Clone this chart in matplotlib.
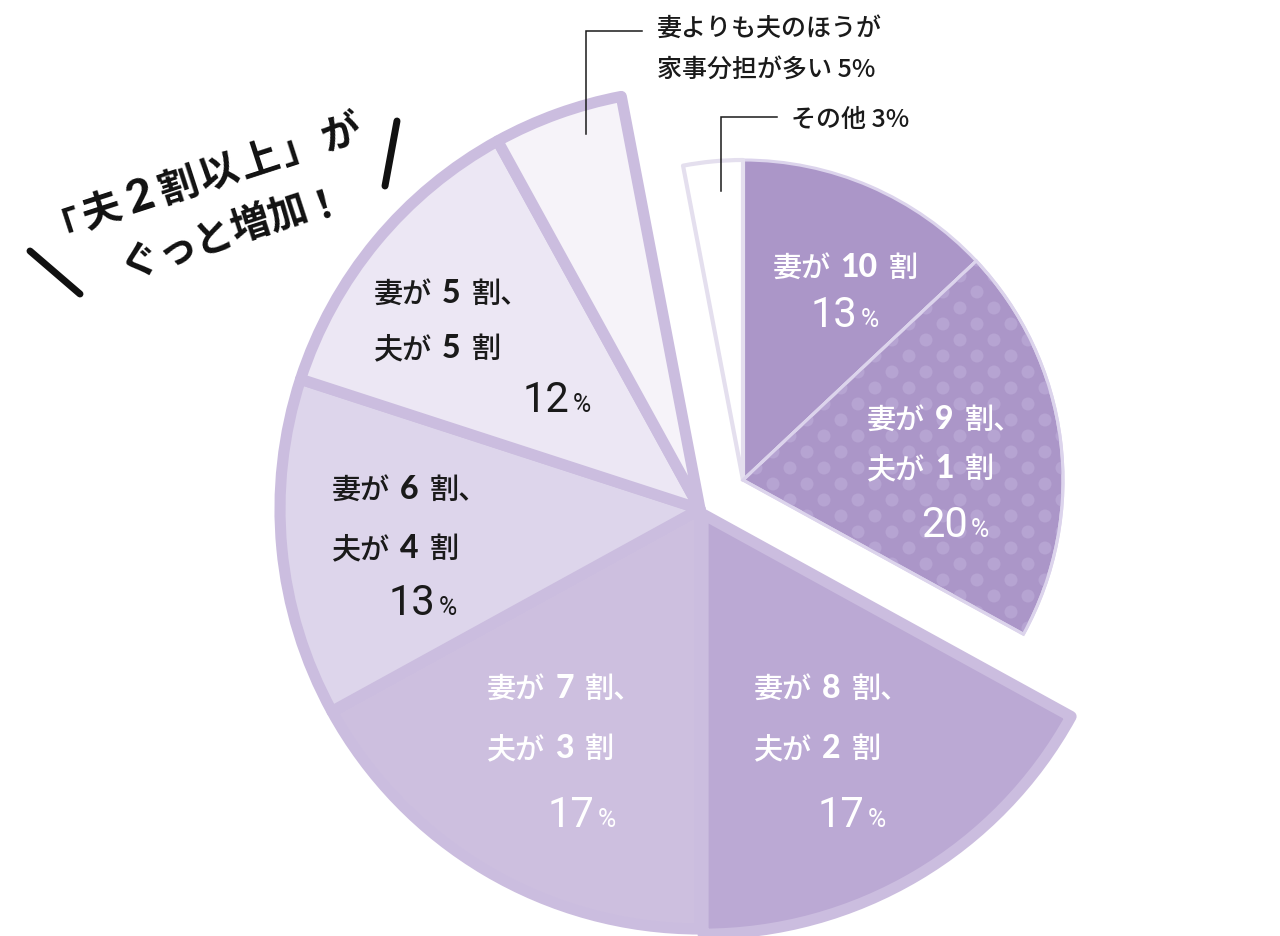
import numpy as np
import matplotlib
matplotlib.use('Agg')
import matplotlib.pyplot as plt
from matplotlib.patches import Wedge, Circle
from matplotlib.collections import PatchCollection

# ---------------- data ----------------
categories = ['妻が10割', '妻が9割、夫が1割', '妻が8割、夫が2割', '妻が7割、夫が3割',
              '妻が6割、夫が4割', '妻が5割、夫が5割',
              '妻よりも夫のほうが家事分担が多い', 'その他']
values = [13, 20, 17, 17, 13, 12, 5, 3]
wife_share = ['10', '9', '8', '7', '6', '5']
husband_share = [None, '1', '2', '3', '4', '5']
pct_labels = ['13', '20', '17', '17', '13', '12']
outside_label_1 = ['妻よりも夫のほうが', '家事分担が多い 5%']
outside_label_2 = 'その他 3%'
title_line1 = ['「', '夫', '2', '割', '以', '上', '」', 'が']
title_line2 = ['ぐ', 'っ', 'と', '増', '加', '！']

# ---------------- style ----------------
W, H = 1280, 937
fill_colors = ['#ab96c8', '#ab96c8', '#bba9d4', '#cdbfdf', '#ddd5eb',
               '#ece7f4', '#f6f3f9', '#ffffff']
border = '#cbbddf'
dot_color = '#b6a4d2'
txt_colors = ['white', 'white', 'white', 'white', '#1a1a1a', '#1a1a1a']

fig = plt.figure(figsize=(W / 100, H / 100), dpi=100)
ax = fig.add_axes([0, 0, 1, 1])

# main (large) pie
main_center = (700, H - 510)
explode_main = [0, 0, 6, 0, 0, 0, 0, 0]
w_main, _ = ax.pie(values, colors=fill_colors, startangle=90, counterclock=False,
                   radius=420, center=main_center, explode=explode_main,
                   wedgeprops=dict(edgecolor=border, linewidth=8, joinstyle='round'))
for i in (0, 1, 7):
    w_main[i].set_visible(False)

# exploded (small) pie
small_center = (743, H - 481)
w_small, _ = ax.pie(values, colors=fill_colors, startangle=90, counterclock=False,
                    radius=320, center=small_center,
                    wedgeprops=dict(edgecolor='#dcd4ec', linewidth=2.2, joinstyle='round'))
for i in range(2, 7):
    w_small[i].set_visible(False)
w_small[7].set_edgecolor('#e4dfee')
w_small[7].set_linewidth(3)
for w in w_small:
    w.set_zorder(2)

# dotted pattern on 9割 wedge
wd = w_small[1]
dots = []
for k in range(-30, 30):
    yy = 453 + 16 * k
    off = 17 if k % 2 else 0
    for m in range(-20, 20):
        xx = 807 + 34 * m + off
        if 700 < xx < 1100 and 200 < yy < 700:
            dots.append(Circle((xx, H - yy), 6.5))
pc = PatchCollection(dots, facecolor=dot_color, edgecolor='none', zorder=2.5)
ax.add_collection(pc)
pc.set_clip_path(wd)
ax.add_patch(Wedge(wd.center, wd.r, wd.theta1, wd.theta2, facecolor='none',
                   edgecolor='#dcd4ec', linewidth=2.2, zorder=2.6))

ax.set_xlim(0, W)
ax.set_ylim(0, H)
ax.set_aspect('equal')
ax.axis('off')

renderer = fig.canvas.get_renderer()

JP = ['Noto Sans CJK JP', 'DejaVu Sans']
NUMB = ['Lato', 'Roboto', 'DejaVu Sans']
PCT = ['Roboto', 'Lato', 'DejaVu Sans']


def seg_width(s, props):
    t = ax.text(0, 0, s, **props)
    w = t.get_window_extent(renderer).width
    t.remove()
    return w


def place(segs, x, y, ha='left', angle=0.0, center_em=None):
    """segs: list of (text, props, gap_after). x,y image coords of baseline
    start (ha='left') or baseline center (ha='center')."""
    widths = [seg_width(s, p) for s, p, g in segs]
    total = sum(widths) + sum(g for _, _, g in segs[:-1])
    th = np.deg2rad(angle)
    d = np.array([np.cos(th), -np.sin(th)])
    p0 = np.array([x, y], dtype=float)
    if center_em is not None:
        p0 = p0 + np.array([np.sin(th), np.cos(th)]) * center_em
    if ha == 'center':
        p0 = p0 - d * total / 2
    off = 0.0
    for (s, p, g), w in zip(segs, widths):
        pos = p0 + d * off
        ax.text(pos[0], H - pos[1], s, ha='left', va='baseline', rotation=angle,
                rotation_mode='anchor', zorder=5, **p)
        off += w + g


def jp(size, color, weight='medium'):
    return dict(family=JP, fontsize=size, color=color, fontweight=weight)


def num(size, color):
    return dict(family=NUMB, fontsize=size, color=color, fontweight='black')


def pct(size, color, weight):
    return dict(family=PCT, fontsize=size, color=color, fontweight=weight)


# inside labels: (line1 x, line1 baseline, line2 baseline, ha, pct x, pct baseline)
label_pos = [
    (845, 277, None, 'center', 845, 327),
    (867, 429, 478, 'left', 955, 537),
    (754, 698, 758, 'left', 852, 827),
    (487, 698, 758, 'left', 582, 827),
    (332, 499, 558, 'left', 423, 615),
    (374, 303, 358, 'left', 557, 412),
]
for i, (lx, b1, b2, ha, px, pb) in enumerate(label_pos):
    c = txt_colors[i]
    comma = '割' if husband_share[i] is None else '割、'
    place([('妻が', jp(21, c), 10), (wife_share[i], num(23, c), 11),
           (comma, jp(21, c), 0)], lx, b1, ha=ha)
    if husband_share[i] is not None:
        place([('夫が', jp(21, c), 10), (husband_share[i], num(23, c), 11),
               ('割', jp(21, c), 0)], lx, b2, ha=ha)
    place([(pct_labels[i], pct(30, c, 'normal'), 3), ('%', pct(18, c, 'normal'), 0)],
          px, pb, ha='center')

# outside labels with leader lines
ol = jp(18, '#1a1a1a', 'medium')
place([(outside_label_1[0], ol, 0)], 657, 36)
place([(outside_label_1[1], ol, 0)], 657, 78)
place([(outside_label_2, ol, 0)], 791, 127)
ax.plot([586, 586, 642], [H - 135, H - 32, H - 32], color='#1a1a1a', lw=1.1,
        solid_joinstyle='miter', zorder=4)
ax.plot([721, 721, 777], [H - 192, H - 118, H - 118], color='#1a1a1a', lw=1.1,
        solid_joinstyle='miter', zorder=4)

# rotated title
ang = 18
tprop = jp(28.5, '#111111', 'bold')
segs1 = []
for ch in title_line1:
    if ch == '2':
        if segs1:
            segs1[-1] = (segs1[-1][0], segs1[-1][1], 7)
        segs1.append((ch, dict(family=NUMB, fontsize=33, color='#111111',
                               fontweight='black'), 7))
    else:
        segs1.append((ch, tprop, 3))
place(segs1, 200, 176, ha='center', angle=ang, center_em=15)
segs2 = [(ch, tprop, -1) for ch in title_line2]
place(segs2, 231, 228, ha='center', angle=ang, center_em=15)

# decorative slashes
ax.plot([30, 80], [H - 252, H - 295], color='#111111', lw=5, solid_capstyle='round', zorder=4)
ax.plot([397, 385], [H - 122, H - 187], color='#111111', lw=5, solid_capstyle='round', zorder=4)

fig.savefig('out.png', dpi=100)
